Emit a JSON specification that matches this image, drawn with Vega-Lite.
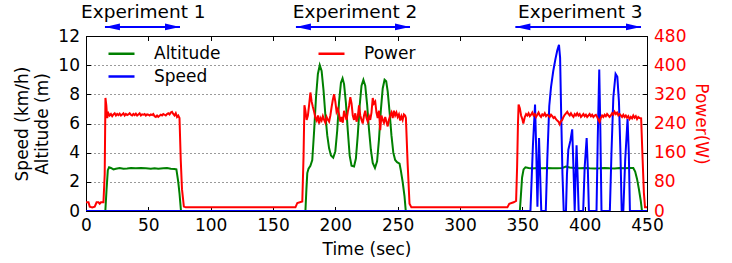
{
 "$schema": "https://vega.github.io/schema/vega-lite/v6.json",
 "width": 561, "height": 175,
 "autosize": {"type": "none"},
 "padding": {"left": 86, "top": 36, "right": 85, "bottom": 52},
 "config": {
  "font": "DejaVu Sans",
  "view": {"stroke": "#000", "strokeWidth": 1},
  "axis": {"labelFont": "DejaVu Sans", "titleFont": "DejaVu Sans", "labelFontSize": 17, "titleFontSize": 17, "titleFontWeight": "normal", "labelColor": "#000", "titleColor": "#000", "domainColor": "#000", "tickColor": "#000", "labelFlush": false, "labelOverlap": false, "tickSize": -4.5, "domainWidth": 1, "tickWidth": 1, "labelPadding": 11},
  "legend": {"orient": "none", "legendX": 21, "legendY": 3, "columns": 2, "symbolType": "stroke", "symbolSize": 676, "symbolStrokeWidth": 2.5, "labelFont": "DejaVu Sans", "labelFontSize": 17, "labelColor": "#000", "labelOffset": 18, "columnPadding": 92, "rowPadding": 0, "padding": 0}
 },
 "datasets": {
  "alt": [
   {"t":0,"v":0},{"t":15.5,"v":0},{"t":16.5,"v":1.5},{"t":17.5,"v":2.8},{"t":18.5,"v":3.0},{"t":20,"v":2.95},{"t":22,"v":2.85},{"t":24,"v":2.9},{"t":27,"v":2.95},{"t":30,"v":2.9},{"t":33,"v":2.92},{"t":36,"v":2.95},{"t":40,"v":2.93},{"t":44,"v":2.95},{"t":48,"v":2.93},{"t":52,"v":2.9},{"t":55,"v":2.93},{"t":58,"v":2.9},{"t":62,"v":2.93},{"t":65,"v":2.95},{"t":68,"v":2.9},{"t":71,"v":2.88},{"t":72.5,"v":2.85},{"t":74,"v":2.0},{"t":75,"v":1.2},{"t":76.2,"v":0},
   {"t":176,"v":0},{"t":176.8,"v":1.5},{"t":177.5,"v":2.6},{"t":178.5,"v":2.9},{"t":180,"v":3.1},{"t":181.5,"v":3.5},{"t":183,"v":5.5},{"t":184.5,"v":7.8},{"t":186,"v":9.4},{"t":187.5,"v":10.0},{"t":189,"v":9.6},{"t":190.5,"v":8.3},{"t":192,"v":6.6},{"t":193.5,"v":5.2},{"t":195,"v":4.3},{"t":196.5,"v":3.8},{"t":198.3,"v":3.65},{"t":200,"v":4.1},{"t":201.5,"v":5.5},{"t":203,"v":7.5},{"t":204.5,"v":8.8},{"t":205.8,"v":9.1},{"t":207,"v":8.7},{"t":208.5,"v":7.4},{"t":210,"v":5.5},{"t":211.5,"v":3.8},{"t":213,"v":3.1},{"t":215,"v":3.05},{"t":216.5,"v":3.6},{"t":218,"v":5.2},{"t":219.5,"v":7.2},{"t":221,"v":8.6},{"t":222.5,"v":9.0},{"t":224,"v":8.6},{"t":225.5,"v":7.3},{"t":227,"v":5.6},{"t":228.5,"v":4.2},{"t":230,"v":3.3},{"t":231.8,"v":2.95},{"t":233.5,"v":3.4},{"t":235,"v":4.9},{"t":236.5,"v":6.9},{"t":238,"v":8.4},{"t":239.5,"v":9.0},{"t":240.8,"v":8.9},{"t":242,"v":8.2},{"t":243.5,"v":6.8},{"t":245,"v":5.2},{"t":246.5,"v":4.0},{"t":248,"v":3.5},{"t":249.5,"v":3.35},{"t":251.5,"v":3.25},{"t":252.5,"v":2.8},{"t":254,"v":2.0},{"t":255.5,"v":1.0},{"t":256.5,"v":0},
   {"t":348,"v":0},{"t":348.8,"v":1.0},{"t":349.8,"v":2.3},{"t":351,"v":2.85},{"t":352.5,"v":3.0},{"t":355,"v":2.95},{"t":358,"v":2.92},{"t":362,"v":2.95},{"t":366,"v":2.93},{"t":370,"v":2.95},{"t":374,"v":2.93},{"t":378,"v":2.93},{"t":382,"v":2.95},{"t":385,"v":3.05},{"t":388,"v":2.98},{"t":392,"v":2.95},{"t":396,"v":2.93},{"t":400,"v":2.95},{"t":404,"v":2.93},{"t":408,"v":2.92},{"t":412,"v":2.93},{"t":416,"v":2.95},{"t":420,"v":2.93},{"t":424,"v":2.92},{"t":428,"v":2.95},{"t":432,"v":2.93},{"t":436,"v":2.95},{"t":439,"v":2.95},{"t":440.5,"v":2.7},{"t":442,"v":2.2},{"t":443.5,"v":1.5},{"t":445,"v":0.7},{"t":446,"v":0},{"t":450,"v":0}
  ],
  "speed": [
   {"t":0,"v":0},{"t":356.5,"v":0},{"t":358.5,"v":4.5},{"t":360.2,"v":7.3},{"t":361.2,"v":4},{"t":362.1,"v":0.3},{"t":363.4,"v":5.0},{"t":365.2,"v":0},
   {"t":368.8,"v":0},{"t":370,"v":3.5},{"t":371.6,"v":7.2},{"t":373,"v":8.5},{"t":374.8,"v":9.6},{"t":376.5,"v":10.4},{"t":378,"v":11.0},{"t":379.4,"v":11.4},{"t":380.3,"v":10.5},{"t":381.2,"v":6.5},{"t":382.2,"v":2.5},{"t":383.2,"v":0},
   {"t":385,"v":0},{"t":385.8,"v":2.5},{"t":386.9,"v":4.2},{"t":388.5,"v":4.8},{"t":390,"v":5.6},{"t":391,"v":3},{"t":392,"v":0},{"t":392.6,"v":2},{"t":393.5,"v":4.5},{"t":394.3,"v":2.5},{"t":395.2,"v":0},
   {"t":398.8,"v":0},{"t":400,"v":3},{"t":401.6,"v":5.0},{"t":402.5,"v":3},{"t":403.4,"v":0},
   {"t":409.5,"v":0},{"t":410.5,"v":5},{"t":411.7,"v":9.7},{"t":412.5,"v":6},{"t":413.5,"v":0},
   {"t":420.2,"v":0},{"t":421.5,"v":4},{"t":423,"v":7.8},{"t":424.8,"v":9.4},{"t":426.2,"v":9.2},{"t":427.5,"v":7.5},{"t":428.7,"v":4},{"t":429.7,"v":0},
   {"t":431,"v":0},{"t":432.5,"v":3.5},{"t":434.4,"v":6.3},{"t":435.4,"v":4},{"t":436.3,"v":0},{"t":450,"v":0}
  ],
  "power": [
   {"t":0,"w":24},{"t":2,"w":24},{"t":3,"w":12},{"t":5,"w":10},{"t":7,"w":12},{"t":8.5,"w":24},{"t":10,"w":24},{"t":11,"w":20},{"t":12,"w":24},{"t":14,"w":24},{"t":15,"w":100},{"t":15.6,"w":310},{"t":16.3,"w":290},{"t":17,"w":255},{"t":18,"w":268},{"t":19,"w":262},{"t":20,"w":266},{"t":21,"w":260},{"t":22,"w":265},{"t":23,"w":268},{"t":24,"w":262},{"t":25,"w":266},{"t":26,"w":263},{"t":27,"w":267},{"t":28,"w":262},{"t":29,"w":265},{"t":30,"w":268},{"t":31,"w":262},{"t":32,"w":266},{"t":33,"w":263},{"t":34,"w":265},{"t":35,"w":268},{"t":36,"w":264},{"t":37,"w":262},{"t":38,"w":266},{"t":39,"w":263},{"t":40,"w":267},{"t":41,"w":262},{"t":42,"w":265},{"t":43,"w":268},{"t":44,"w":262},{"t":45,"w":265},{"t":46,"w":264},{"t":47,"w":266},{"t":48,"w":262},{"t":49,"w":265},{"t":50,"w":264},{"t":51,"w":262},{"t":52,"w":265},{"t":53,"w":263},{"t":54,"w":266},{"t":55,"w":260},{"t":56,"w":258},{"t":57,"w":262},{"t":58,"w":258},{"t":59,"w":261},{"t":60,"w":264},{"t":61,"w":262},{"t":62,"w":266},{"t":63,"w":264},{"t":64,"w":262},{"t":65,"w":266},{"t":66,"w":268},{"t":67,"w":265},{"t":68,"w":270},{"t":69,"w":272},{"t":70,"w":266},{"t":71,"w":262},{"t":72,"w":268},{"t":73,"w":258},{"t":74,"w":262},{"t":75,"w":255},{"t":76,"w":140},{"t":77,"w":60},{"t":78.5,"w":12},{"t":80,"w":10},{"t":120,"w":10},{"t":168,"w":10},{"t":169.5,"w":22},{"t":173.5,"w":26},{"t":174.5,"w":150},
   {"t":175.2,"w":290},{"t":176,"w":275},{"t":177,"w":250},{"t":178,"w":262},{"t":179,"w":292},{"t":180,"w":325},{"t":181,"w":300},{"t":182,"w":285},{"t":183,"w":272},{"t":184,"w":255},{"t":185,"w":248},{"t":186,"w":262},{"t":187,"w":240},{"t":188,"w":255},{"t":189,"w":248},{"t":190,"w":260},{"t":191,"w":250},{"t":192,"w":242},{"t":193,"w":258},{"t":194,"w":250},{"t":195,"w":245},{"t":196,"w":262},{"t":197,"w":285},{"t":198,"w":305},{"t":199,"w":320},{"t":200,"w":300},{"t":201,"w":272},{"t":202,"w":280},{"t":203,"w":265},{"t":204,"w":245},{"t":205,"w":258},{"t":206,"w":242},{"t":207,"w":275},{"t":208,"w":262},{"t":209,"w":250},{"t":210,"w":272},{"t":211,"w":288},{"t":212,"w":312},{"t":213,"w":295},{"t":214,"w":262},{"t":215,"w":250},{"t":216,"w":268},{"t":217,"w":245},{"t":218,"w":258},{"t":219,"w":290},{"t":220,"w":262},{"t":221,"w":250},{"t":222,"w":240},{"t":223,"w":262},{"t":224,"w":275},{"t":225,"w":255},{"t":226,"w":245},{"t":227,"w":260},{"t":228,"w":250},{"t":229,"w":270},{"t":230,"w":310},{"t":231,"w":295},{"t":232,"w":300},{"t":233,"w":270},{"t":234,"w":255},{"t":235,"w":275},{"t":236,"w":222},{"t":237,"w":262},{"t":238,"w":250},{"t":239,"w":242},{"t":240,"w":258},{"t":241,"w":245},{"t":242,"w":232},{"t":243,"w":250},{"t":244,"w":262},{"t":245,"w":270},{"t":246,"w":255},{"t":247,"w":275},{"t":248,"w":262},{"t":249,"w":270},{"t":250,"w":258},{"t":251,"w":265},{"t":252,"w":248},{"t":253,"w":260},{"t":254,"w":250},{"t":255,"w":265},{"t":256,"w":262},{"t":256.6,"w":255},{"t":258,"w":130},{"t":259.5,"w":20},{"t":261,"w":10},
   {"t":300,"w":10},{"t":338,"w":10},{"t":339.5,"w":20},{"t":343,"w":24},{"t":345,"w":28},{"t":345.8,"w":120},{"t":346.5,"w":240},{"t":347,"w":292},{"t":348,"w":282},{"t":349,"w":262},{"t":350,"w":252},{"t":350.8,"w":240},{"t":352,"w":258},{"t":353,"w":266},{"t":354,"w":262},{"t":355,"w":268},{"t":356,"w":260},{"t":357,"w":264},{"t":358,"w":270},{"t":359,"w":262},{"t":360,"w":266},{"t":361,"w":258},{"t":362,"w":264},{"t":363,"w":270},{"t":364,"w":262},{"t":365,"w":258},{"t":366,"w":265},{"t":367,"w":262},{"t":368,"w":268},{"t":369,"w":260},{"t":370,"w":264},{"t":371,"w":262},{"t":372,"w":258},{"t":373,"w":264},{"t":374,"w":260},{"t":375,"w":255},{"t":376,"w":258},{"t":377,"w":252},{"t":378,"w":248},{"t":379,"w":245},{"t":380,"w":238},{"t":381,"w":246},{"t":382,"w":250},{"t":383,"w":258},{"t":384,"w":264},{"t":385,"w":268},{"t":386,"w":272},{"t":387,"w":266},{"t":388,"w":262},{"t":389,"w":268},{"t":390,"w":262},{"t":391,"w":258},{"t":392,"w":266},{"t":393,"w":262},{"t":394,"w":268},{"t":395,"w":262},{"t":396,"w":266},{"t":397,"w":258},{"t":398,"w":262},{"t":399,"w":266},{"t":400,"w":260},{"t":401,"w":264},{"t":402,"w":258},{"t":403,"w":262},{"t":404,"w":266},{"t":405,"w":260},{"t":406,"w":264},{"t":407,"w":258},{"t":408,"w":262},{"t":409,"w":264},{"t":410,"w":258},{"t":411,"w":250},{"t":412,"w":244},{"t":413,"w":256},{"t":414,"w":262},{"t":415,"w":258},{"t":416,"w":264},{"t":417,"w":260},{"t":418,"w":266},{"t":419,"w":262},{"t":420,"w":258},{"t":421,"w":262},{"t":422,"w":268},{"t":423,"w":264},{"t":424,"w":272},{"t":425,"w":266},{"t":426,"w":270},{"t":427,"w":262},{"t":428,"w":266},{"t":429,"w":262},{"t":430,"w":258},{"t":431,"w":264},{"t":432,"w":258},{"t":433,"w":262},{"t":434,"w":256},{"t":435,"w":260},{"t":436,"w":252},{"t":437,"w":258},{"t":438,"w":254},{"t":439,"w":262},{"t":440,"w":256},{"t":441,"w":260},{"t":442,"w":252},{"t":443,"w":258},{"t":444,"w":255},{"t":445.3,"w":254},{"t":446.5,"w":140},{"t":447.5,"w":50},{"t":448.4,"w":10},{"t":450,"w":10}
  ],
  "exp": [
   {"label":"Experiment 1","x0":15.2,"x1":75.4,"xm":46},
   {"label":"Experiment 2","x0":168.4,"x1":259.9,"xm":215.8},
   {"label":"Experiment 3","x0":344.4,"x1":445.2,"xm":396.5}
  ]
 },
 "layer": [
  {
   "layer": [
    {
     "data": {"name": "alt"},
     "mark": {"type": "line", "strokeWidth": 2, "clip": true},
     "encoding": {
      "x": {"field": "t", "type": "quantitative", "scale": {"domain": [0, 450], "nice": false},
            "axis": {"orient": "bottom", "values": [0,50,100,150,200,250,300,350,400,450], "title": "Time (sec)", "grid": false, "titlePadding": 8}},
      "y": {"field": "v", "type": "quantitative", "scale": {"domain": [0, 12], "nice": false},
            "axis": {"values": [0,2,4,6,8,10,12], "tickCount": 7, "grid": true, "gridDash": [1, 3], "gridColor": "#000", "gridWidth": 0.8, "gridOpacity": 1, "title": ["Speed (km/h)", "Altitude (m)"], "titleLineHeight": 20, "titlePadding": 6}},
      "color": {"datum": "Altitude", "type": "nominal", "scale": {"domain": ["Altitude", "Speed", "Power"], "range": ["#008000", "#0000ff", "#ff0000"]}, "legend": {"title": null}}
     }
    },
    {
     "data": {"name": "speed"},
     "mark": {"type": "line", "strokeWidth": 2, "clip": true},
     "encoding": {
      "x": {"field": "t", "type": "quantitative"},
      "y": {"field": "v", "type": "quantitative",
            "axis": {"values": [0,2,4,6,8,10,12], "tickCount": 7, "grid": true, "gridDash": [1, 3], "gridColor": "#000", "gridWidth": 0.8, "gridOpacity": 1, "title": ["Speed (km/h)", "Altitude (m)"], "titleLineHeight": 20, "titlePadding": 6}},
      "color": {"datum": "Speed", "type": "nominal"}
     }
    },
    {
     "data": {"name": "exp"},
     "mark": {"type": "rule", "color": "#0000ff", "strokeWidth": 2},
     "encoding": {
      "x": {"field": "x0", "type": "quantitative"},
      "x2": {"field": "x1"},
      "y": {"datum": 12.62, "type": "quantitative",
            "axis": {"values": [0,2,4,6,8,10,12], "tickCount": 7, "grid": true, "gridDash": [1, 3], "gridColor": "#000", "gridWidth": 0.8, "gridOpacity": 1, "title": ["Speed (km/h)", "Altitude (m)"], "titleLineHeight": 20, "titlePadding": 6}}
     }
    },
    {
     "data": {"name": "exp"},
     "mark": {"type": "point", "shape": "M0,0L2,-0.45L2,0.45Z", "size": 225, "filled": true, "color": "#0000ff", "opacity": 1},
     "encoding": {
      "x": {"field": "x0", "type": "quantitative"},
      "y": {"datum": 12.62, "type": "quantitative",
            "axis": {"values": [0,2,4,6,8,10,12], "tickCount": 7, "grid": true, "gridDash": [1, 3], "gridColor": "#000", "gridWidth": 0.8, "gridOpacity": 1, "title": ["Speed (km/h)", "Altitude (m)"], "titleLineHeight": 20, "titlePadding": 6}}
     }
    },
    {
     "data": {"name": "exp"},
     "mark": {"type": "point", "shape": "M0,0L-2,-0.45L-2,0.45Z", "size": 225, "filled": true, "color": "#0000ff", "opacity": 1},
     "encoding": {
      "x": {"field": "x1", "type": "quantitative"},
      "y": {"datum": 12.62, "type": "quantitative",
            "axis": {"values": [0,2,4,6,8,10,12], "tickCount": 7, "grid": true, "gridDash": [1, 3], "gridColor": "#000", "gridWidth": 0.8, "gridOpacity": 1, "title": ["Speed (km/h)", "Altitude (m)"], "titleLineHeight": 20, "titlePadding": 6}}
     }
    },
    {
     "data": {"name": "exp"},
     "mark": {"type": "text", "fontSize": 18.5, "font": "DejaVu Sans", "color": "#000", "baseline": "alphabetic", "align": "center"},
     "encoding": {
      "x": {"field": "xm", "type": "quantitative"},
      "y": {"datum": 13.23, "type": "quantitative",
            "axis": {"values": [0,2,4,6,8,10,12], "tickCount": 7, "grid": true, "gridDash": [1, 3], "gridColor": "#000", "gridWidth": 0.8, "gridOpacity": 1, "title": ["Speed (km/h)", "Altitude (m)"], "titleLineHeight": 20, "titlePadding": 6}},
      "text": {"field": "label"}
     }
    }
   ]
  },
  {
   "data": {"name": "power"},
   "mark": {"type": "line", "strokeWidth": 2, "clip": true},
   "encoding": {
    "x": {"field": "t", "type": "quantitative", "scale": {"domain": [0, 450], "nice": false},
          "axis": {"orient": "top", "values": [0,50,100,150,200,250,300,350,400,450], "labels": false, "title": null, "domain": false, "grid": false}},
    "y": {"field": "w", "type": "quantitative", "scale": {"domain": [0, 480], "nice": false},
          "axis": {"orient": "right", "values": [0,80,160,240,320,400,480], "grid": false, "labelColor": "#ff0000", "titleColor": "#ff0000", "title": "Power(W)", "titlePadding": 6}},
    "color": {"datum": "Power", "type": "nominal"}
   }
  }
 ],
 "resolve": {"scale": {"y": "independent"}, "axis": {"x": "independent"}}
}
